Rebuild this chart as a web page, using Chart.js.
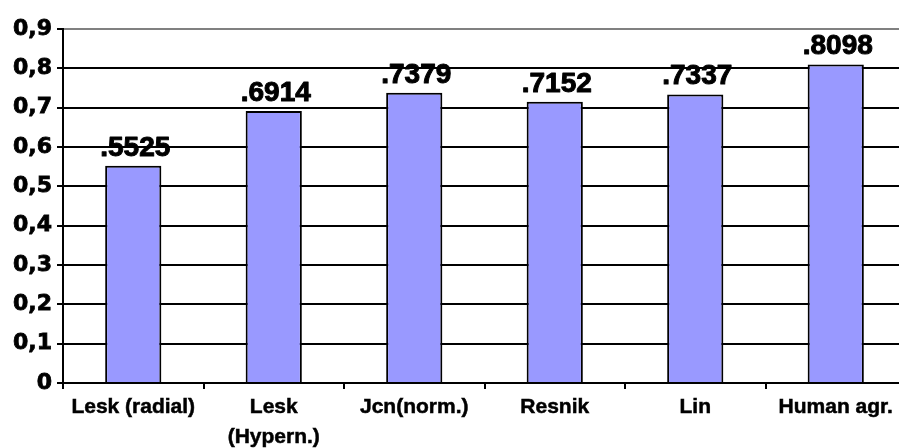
<!DOCTYPE html>
<html>
<head>
<meta charset="utf-8">
<script src="https://cdn.jsdelivr.net/npm/chart.js@4.4.1/dist/chart.umd.min.js"></script>
<style>
  html, body { margin: 0; padding: 0; background: #fff; overflow: hidden; }
  #wrap { width: 907px; height: 448px; }
</style>
</head>
<body>
<div id="wrap"><canvas id="c" width="907" height="448"></canvas></div>
<script>
const categories = ['Lesk (radial)', ['Lesk', '(Hypern.)'], 'Jcn(norm.)', 'Resnik', 'Lin', 'Human agr.'];
const scores = [0.5525, 0.6914, 0.7379, 0.7152, 0.7337, 0.8098];
const yTickLabels = ['0', '0,1', '0,2', '0,3', '0,4', '0,5', '0,6', '0,7', '0,8', '0,9'];

const FONT = '"Liberation Sans", Arial, Helvetica, sans-serif';
const YFONT = '"DejaVu Sans", "Liberation Sans", Arial, sans-serif';

const valueLabels = {
  id: 'valueLabels',
  afterDatasetsDraw(chart) {
    const ctx = chart.ctx;
    const meta = chart.getDatasetMeta(0);
    ctx.save();
    ctx.font = 'bold 28px ' + FONT;
    ctx.fillStyle = '#000';
    ctx.strokeStyle = '#000';
    ctx.lineWidth = 1;
    ctx.lineJoin = 'round';
    ctx.textAlign = 'center';
    ctx.textBaseline = 'alphabetic';
    meta.data.forEach((bar, i) => {
      const txt = '.' + scores[i].toFixed(4).split('.')[1];
      ctx.strokeText(txt, bar.x + 2, bar.y - 10);
      ctx.fillText(txt, bar.x + 2, bar.y - 10);
    });
    ctx.restore();
  }
};

new Chart(document.getElementById('c'), {
  type: 'bar',
  data: {
    labels: categories,
    datasets: [{
      data: scores,
      backgroundColor: '#9999FF',
      borderColor: '#000000',
      borderWidth: 2,
      borderSkipped: 'bottom',
      categoryPercentage: 1,
      barPercentage: 0.4
    }]
  },
  options: {
    responsive: false,
    animation: false,
    devicePixelRatio: 1,
    layout: { padding: { top: 29, right: 1, left: 0, bottom: 0 } },
    plugins: {
      legend: { display: false },
      tooltip: { enabled: false },
      title: { display: false }
    },
    scales: {
      x: {
        offset: true,
        afterFit(scale) { scale.height = 65; },
        grid: {
          display: true,
          drawOnChartArea: false,
          drawTicks: true,
          tickLength: 6,
          offset: true,
          color: '#000',
          lineWidth: 2
        },
        border: { display: true, color: '#000', width: 2 },
        ticks: {
          color: '#000',
          padding: 4,
          maxRotation: 0,
          autoSkip: false,
          textStrokeColor: '#000',
          textStrokeWidth: 0.5,
          font: { family: FONT, size: 21, weight: 'bold', lineHeight: 1.4 }
        }
      },
      y: {
        min: 0,
        max: 0.9,
        afterFit(scale) { scale.width = 63; },
        grid: {
          color: (c) => (c.tick && c.tick.value >= 0.899) ? '#808080' : '#000',
          tickColor: '#000',
          lineWidth: 2,
          tickLength: 6,
          drawTicks: true
        },
        border: { display: true, color: '#000', width: 2 },
        ticks: {
          stepSize: 0.1,
          color: '#000',
          padding: 5,
          textStrokeColor: '#000',
          textStrokeWidth: 0.8,
          font: { family: YFONT, size: 22, weight: 'bold' },
          callback: (v, i) => yTickLabels[i]
        }
      }
    }
  },
  plugins: [valueLabels]
});
</script>
</body>
</html>
